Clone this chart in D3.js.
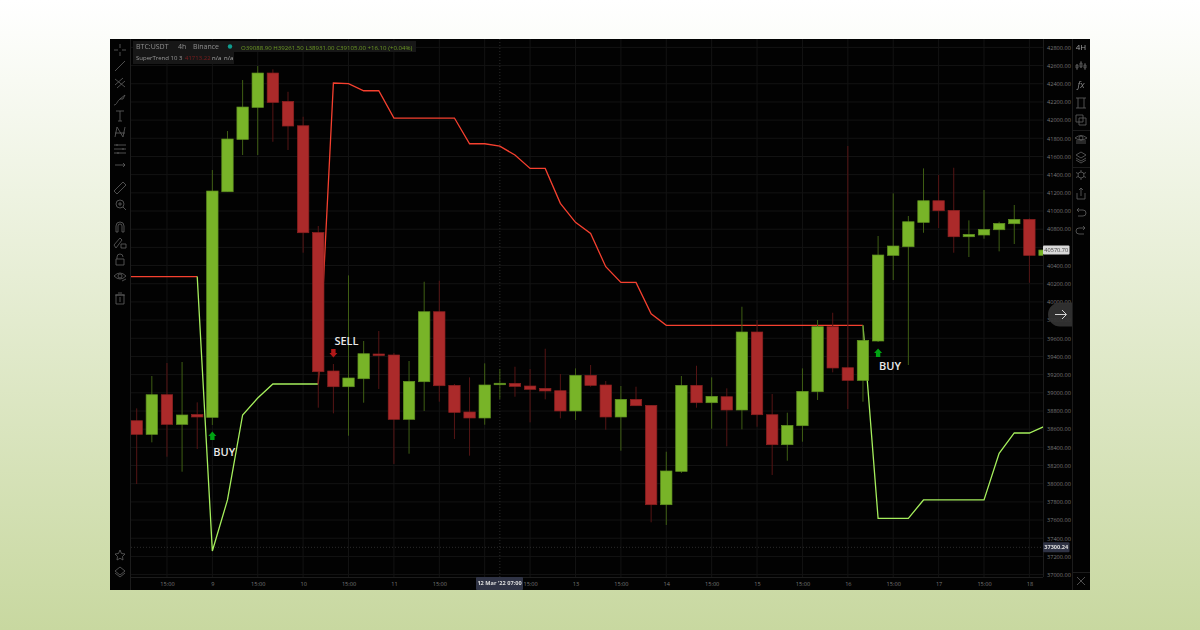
<!DOCTYPE html>
<html>
<head>
<meta charset="utf-8">
<script src="https://cdnjs.cloudflare.com/ajax/libs/d3/7.8.5/d3.min.js"></script>
<style>
  html, body { margin: 0; padding: 0; width: 1200px; height: 630px; overflow: hidden; }
  body { background: linear-gradient(#ffffff, #c8d8a0); }
  svg { display: block; filter: blur(0.35px); }
  text { font-family: "Open Sans", sans-serif; }
</style>
</head>
<body>
<script>
const opens = [38693,38543,38979,38653,38761,38730,41212,41788,42140,42518,42206,41938,40763,39240,39067,39155,39427,39416,38708,39122,39892,39082,38789,38723,39088.9,39104,39075,39049,39023,38800,39192,39086,38734,38928,38862,37769,38136,39082,38891,38957,38811,39669,38759,38429,38638,39012,39727,39276,39137,39570,40512,40607,40875,41113,41007,40717,40736,40794,40860,40908,40512];
const highs = [38829,39185,39328,39339,38895,41451,41880,42441,42595,42558,42312,42037,40835,39317,40292,39570,39680,39438,39350,40222,40233,39097,39170,39324,39261.5,39287,39262,39485,39207,39269,39306,39130,39075,39067,38866,38352,39185,39298,39170,39049,39947,39801,38987,38781,39269,39801,39881,41715,39746,40725,41194,40945,41469,41396,41476,40897,41231,40882,41066,40919,40571];
const lows = [37997,38455,38297,38132,38382,38646,41212,41616,41616,41762,41671,40541,38836,38774,38528,38891,39042,38217,38330,38800,38902,38492,38308,38649,38931,38957,38675,38928,38719,38701,39067,38594,38363,38858,37575,37546,38118,38836,38605,38411,38598,38627,38096,38253,38462,38921,39225,38822,38902,39559,40241,39306,40761,40813,40541,40494,40695,40556,40637,40211,40512];
const closes = [38543,38979,38653,38756,38734,41220,41792,42144,42518,42195,41935,40761,39232,39067,39163,39430,39410,38708,39126,39892,39078,38785,38723,39086,39105,39071,39038,39020,38800,39192,39082,38734,38928,38858,37769,38140,39082,38891,38961,38811,39669,38759,38429,38642,39016,39727,39273,39137,39577,40516,40615,40882,41113,41003,40717,40743,40798,40864,40908,40512,40570.7];

// supertrend pieces, each with the candle index it starts on
const redTrendAStart = -1;
const redTrendA = [40279,40279,40279,40279,40279,40279];
const greenTrendAStart = 4;
const greenTrendA = [40279,37260,37821,38756,38943,39097,39097,39097,39097];
const redTrendBStart = 12;
const redTrendB = [39097,42408,42402,42323,42323,42023,42023,42023,42023,42023,41740,41740,41713.22,41616,41469,41469,41084,40875,40754,40387,40215,40215,39870,39742,39742,39742,39742,39742,39742,39742,39742,39742,39742,39742,39742,39742,39742];
const greenTrendBStart = 48;
const greenTrendB = [39742,37619,37619,37619,37821,37821,37821,37821,37821,38334,38558,38558,38631];

const buySignals = [5, 49];
const sellSignals = [13];
const signalPrices = { 5: 38525, 49: 39438, 13: 39438 };
const labelPrices = { 5: 38348, 49: 39295, 13: 39570 };

const priceTicks = [37000,37200,37400,37600,37800,38000,38200,38400,38600,38800,39000,39200,39400,39600,39800,40000,40200,40400,40600,40800,41000,41200,41400,41600,41800,42000,42200,42400,42600,42800];
const timeTickIndex = [2,5,8,11,14,17,20,23,26,29,32,35,38,41,44,47,50,53,56,59];
const timeTickLabels = ['15:00','9','15:00','10','15:00','11','15:00','12','15:00','13','15:00','14','15:00','15','15:00','16','15:00','17','15:00','18'];

const crossIndex = 24;
const crossPrice = 37300.24;
const lastPrice = 40570.7;
// these tick labels sit under the tags
const coveredPriceTick = 40600;
const coveredTimeTick = 23;

const chart = { left: 110, right: 1090, top: 39, bottom: 590 };
const plot = { left: 131, right: 1043, top: 39, bottom: 577 };

const green = '#78b428', greenEdge = '#5f8f20', greenWick = '#3f5f14';
const red = '#ab2a2a', redEdge = '#8a2020', redWick = '#561515';
const gridColor = '#131313', axisText = '#777', iconColor = '#626262', panel = '#020202';

const xScale = d3.scaleLinear().domain([0, 59]).range([136.7, 1029.4]);
const yScale = d3.scaleLinear().domain([37000, 42800]).range([574.6, 47.4]);
const bodyWidth = 11.4;

const svg = d3.select('body').append('svg').attr('width', 1200).attr('height', 630);

svg.append('rect')
  .attr('x', chart.left).attr('y', chart.top)
  .attr('width', chart.right - chart.left).attr('height', chart.bottom - chart.top)
  .attr('fill', panel);

svg.append('clipPath').attr('id', 'plot-clip').append('rect')
  .attr('x', plot.left).attr('y', plot.top)
  .attr('width', plot.right - plot.left).attr('height', plot.bottom - plot.top);

const grid = svg.append('g');
grid.selectAll('.h').data(priceTicks).join('line')
  .attr('x1', plot.left).attr('x2', plot.right)
  .attr('y1', (d) => yScale(d)).attr('y2', (d) => yScale(d))
  .attr('stroke', gridColor);
grid.selectAll('.v').data(timeTickIndex).join('line')
  .attr('x1', (d) => xScale(d)).attr('x2', (d) => xScale(d))
  .attr('y1', plot.top).attr('y2', plot.bottom)
  .attr('stroke', gridColor);

// crosshair
grid.append('line')
  .attr('x1', xScale(crossIndex)).attr('x2', xScale(crossIndex))
  .attr('y1', plot.top).attr('y2', plot.bottom)
  .attr('stroke', '#2c2c2c').attr('stroke-dasharray', '1 2');
grid.append('line')
  .attr('x1', plot.left).attr('x2', plot.right)
  .attr('y1', yScale(crossPrice)).attr('y2', yScale(crossPrice))
  .attr('stroke', '#2c2c2c').attr('stroke-dasharray', '1 2');

const marks = svg.append('g').attr('clip-path', 'url(#plot-clip)');

const line = d3.line()
  .x((d) => xScale(d[0]))
  .y((d) => yScale(d[1]));

function drawTrend(values, start, color) {
  marks.append('path')
    .datum(values.map((v, i) => [start + i, v]))
    .attr('d', line)
    .attr('fill', 'none')
    .attr('stroke', color)
    .attr('stroke-width', 1.3);
}
drawTrend(redTrendA, redTrendAStart, '#f5402f');
drawTrend(greenTrendA, greenTrendAStart, '#a5ee5c');
drawTrend(redTrendB, redTrendBStart, '#f5402f');
drawTrend(greenTrendB, greenTrendBStart, '#a5ee5c');

const isUp = (i) => closes[i] >= opens[i];

marks.selectAll('.wick').data(d3.range(opens.length)).join('line')
  .attr('x1', (i) => xScale(i)).attr('x2', (i) => xScale(i))
  .attr('y1', (i) => yScale(highs[i])).attr('y2', (i) => yScale(lows[i]))
  .attr('stroke', (i) => isUp(i) ? greenWick : redWick)
  .attr('stroke-width', 1);

marks.selectAll('.body').data(d3.range(opens.length)).join('rect')
  .attr('x', (i) => xScale(i) - bodyWidth / 2)
  .attr('width', bodyWidth)
  .attr('y', (i) => yScale(Math.max(opens[i], closes[i])))
  .attr('height', (i) => Math.abs(yScale(opens[i]) - yScale(closes[i])))
  .attr('fill', (i) => isUp(i) ? green : red)
  .attr('stroke', (i) => isUp(i) ? greenEdge : redEdge)
  .attr('stroke-width', 0.7);

// signal arrows and labels
const arrow = 'M0 -4.5L4 0H2.2V4H-2.2V0H-4Z';
marks.selectAll('.buy').data(buySignals).join('path')
  .attr('d', arrow)
  .attr('transform', (i) => `translate(${xScale(i)},${yScale(signalPrices[i])})`)
  .attr('fill', '#00a313');
marks.selectAll('.sell').data(sellSignals).join('path')
  .attr('d', arrow)
  .attr('transform', (i) => `translate(${xScale(i)},${yScale(signalPrices[i])}) rotate(180)`)
  .attr('fill', '#b01818');
marks.selectAll('.signal-label').data(buySignals.concat(sellSignals)).join('text')
  .attr('x', (i) => xScale(i) + 1)
  .attr('y', (i) => yScale(labelPrices[i]))
  .attr('dy', '0.35em')
  .attr('fill', '#e8e8e8')
  .attr('font-size', 11)
  .attr('font-weight', 600)
  .text((i) => sellSignals.includes(i) ? 'SELL' : 'BUY');

// axes
const yAxis = svg.append('g')
  .attr('transform', `translate(${plot.right},0)`)
  .call(d3.axisRight(yScale).tickValues(priceTicks).tickFormat(d3.format('.2f')).tickSize(0).tickPadding(4));
const xAxis = svg.append('g')
  .attr('transform', `translate(0,${plot.bottom})`)
  .call(d3.axisBottom(xScale).tickValues(timeTickIndex).tickFormat((d, i) => timeTickLabels[i]).tickSize(0).tickPadding(5));
[yAxis, xAxis].forEach((axis) => {
  axis.select('.domain').remove();
  axis.selectAll('text').attr('fill', axisText).attr('font-size', 5.6).style('font-family', '"Open Sans", sans-serif');
});
yAxis.selectAll('.tick').filter((d) => d === coveredPriceTick).remove();
xAxis.selectAll('.tick').filter((d) => d === coveredTimeTick).remove();
svg.append('line').attr('x1', plot.right + 0.5).attr('x2', plot.right + 0.5).attr('y1', plot.top).attr('y2', plot.bottom).attr('stroke', '#1c1c1c');
svg.append('line').attr('x1', plot.left).attr('x2', plot.right).attr('y1', plot.bottom + 0.5).attr('y2', plot.bottom + 0.5).attr('stroke', '#1c1c1c');

// crosshair and last price tags
function tag(x, y, w, h, fill, color, label, weight) {
  svg.append('rect').attr('x', x).attr('y', y).attr('width', w).attr('height', h).attr('rx', 1).attr('fill', fill);
  svg.append('text')
    .attr('x', x + w / 2).attr('y', y + h / 2).attr('dy', '0.35em')
    .attr('text-anchor', 'middle').attr('fill', color)
    .attr('font-size', 5.6).attr('font-weight', weight)
    .text(label);
}
tag(plot.right, yScale(lastPrice) - 4.5, 26.5, 9, '#d8d8d8', '#444', d3.format('.2f')(lastPrice), 400);
tag(plot.right, yScale(crossPrice) - 5, 26.5, 10, '#2f3345', '#dddddd', d3.format('.2f')(crossPrice), 700);
tag(476, plot.bottom, 47, 13, '#2f3345', '#dddddd', "12 Mar '22   07:00", 700);

// legend
svg.append('rect').attr('x', 133).attr('y', 41).attr('width', 283).attr('height', 11).attr('fill', '#171717');
svg.append('rect').attr('x', 133).attr('y', 52).attr('width', 101).attr('height', 12).attr('fill', '#171717');
svg.append('circle').attr('cx', 230).attr('cy', 46.5).attr('r', 2.2).attr('fill', '#0f9d8f');
function legendText(x, y, label, color, size) {
  svg.append('text').attr('x', x).attr('y', y).attr('dy', '0.35em')
    .attr('fill', color).attr('font-size', size).text(label);
}
legendText(136, 46.5, 'BTC:USDT', '#8f8f8f', 7);
legendText(178, 46.5, '4h', '#8f8f8f', 7);
legendText(193, 46.5, 'Binance', '#8f8f8f', 7);
legendText(241, 47.5, 'O39088.90  H39261.50  L38931.00  C39105.00  +16.10 (+0.04%)', '#6d9a25', 6.1);
legendText(136, 58, 'SuperTrend 10 3', '#9a9a9a', 6);
legendText(185, 58, '41713.22', '#7e1d1d', 6);
legendText(212, 58, 'n/a', '#a8a8a8', 6);
legendText(224, 58, 'n/a', '#a8a8a8', 6);

// toolbars
svg.append('line').attr('x1', 130.5).attr('x2', 130.5).attr('y1', chart.top).attr('y2', chart.bottom).attr('stroke', '#1c1c1c');
svg.append('line').attr('x1', 1072.5).attr('x2', 1072.5).attr('y1', chart.top).attr('y2', chart.bottom).attr('stroke', '#1c1c1c');
[130, 167, 572].forEach((y) => {
  svg.append('line').attr('x1', 1072).attr('x2', chart.right).attr('y1', y + 0.5).attr('y2', y + 0.5).attr('stroke', '#1c1c1c');
});

const leftIcons = [
  [50, 'M-6 0H-2M2 0H6M0-6V-2M0 2V6'],
  [66, 'M-5 5L5-5'],
  [83, 'M-5 2L3-5M-3 5L5-2M-5-4L5 4'],
  [100, 'M-6 5C-3 5-3 1 0-1L5-5L3-1L0-1'],
  [116, 'M-4-5H4M0-5V5M-2 5H2'],
  [132, 'M-5 5L-3-5L3 5L5-5M-5 1H5'],
  [149, 'M-6-4H6M-6 0H6M-6 4H6M-3-5V-3M3-1V1M-2 3V5'],
  [165, 'M-5 0H5M3-2L5 0L3 2'],
  [188, 'M-6 3L3-6L6-3L-3 6Z'],
  [204, 'M4 0A4 4 0 1 1-4 0A4 4 0 1 1 4 0M3 3L6 6M-2 0H2M0-2V2'],
  [227, 'M-4 5V-1A4 4 0 0 1 4-1V5H2V-1A2 2 0 0 0-2-1V5Z'],
  [243, 'M-6 2L0-5L2-3L-4 5ZM1 1H6V5H1Z'],
  [260, 'M-4-1H4V5H-4ZM-3-1V-3A3 3 0 0 1 3-3'],
  [276, 'M-6 0Q0-6 6 0Q0 6-6 0ZM2 0A2 2 0 1 1-2 0A2 2 0 1 1 2 0M2 5L6 3'],
  [299, 'M-4-4H4V5H-4ZM-5-4H5M-2-6H2M0-2V3'],
  [555, 'M0-5L1.5-1.5L5-1L2.5 1.5L3 5L0 3.3L-3 5L-2.5 1.5L-5-1L-1.5-1.5Z'],
  [572, 'M-5-1L0-5L5-1L0 3ZM-5 1L0 5L5 1']
];
const rightIcons = [
  [66, 'M-4-2V4M0-5V2M4-3V4M-5-1H-3V2H-5ZM-1-3H1V1H-1ZM3-1H5V2H3Z'],
  [103, 'M-5-5H5M-5 5H5M-3-5V5M3-5V5'],
  [120, 'M-5-5H2V2H-5ZM-2-2H5V5H-2Z'],
  [139, 'M-6-1Q0-6 6-1Q0 3-6-1ZM-5 4H5M-5 2H5M2-1A2 2 0 1 1-2-1A2 2 0 1 1 2-1'],
  [157, 'M-5-2L0-5L5-2L0 1ZM-5 1L0 4L5 1M-5 3L0 6L5 3'],
  [176, 'M3-1A3 3 0 1 1-3-1A3 3 0 1 1 3-1M0-6V-4M0 2V4M-5-3.5L-3-2.5M5-3.5L3-2.5M-5 1.5L-3 .5M5 1.5L3 .5'],
  [194, 'M-4-1V5H4V-1M0 2V-6M-2-4L0-6L2-4'],
  [213, 'M-4-3H2A3 3 0 0 1 2 3H-3M-2-5L-4-3L-2-1'],
  [231, 'M4-3H-2A3 3 0 0 0-2 3H3M2-5L4-3L2-1'],
  [581, 'M-4-4L4 4M4-4L-4 4']
];
function drawIcons(icons, x) {
  svg.append('g').selectAll('path').data(icons).join('path')
    .attr('transform', (d) => `translate(${x},${d[0]})`)
    .attr('d', (d) => d[1])
    .attr('fill', 'none')
    .attr('stroke', iconColor)
    .attr('stroke-width', 0.8);
}
drawIcons(leftIcons, 120);
drawIcons(rightIcons, 1081);
svg.append('text').attr('x', 1081).attr('y', 47).attr('dy', '0.35em').attr('text-anchor', 'middle')
  .attr('fill', '#a0a0a0').attr('font-size', 8).text('4H');
svg.append('text').attr('x', 1081).attr('y', 85).attr('dy', '0.35em').attr('text-anchor', 'middle')
  .attr('fill', '#8a8a8a').attr('font-size', 9).attr('font-style', 'italic').text('fx');

// scroll button over the price axis
svg.append('path')
  .attr('d', 'M1072 302.5H1060A12 12 0 0 0 1060 326.5H1072Z')
  .attr('fill', '#333').attr('fill-opacity', 0.92);
svg.append('path')
  .attr('d', 'M1055 314.5H1066M1062 310L1066.5 314.5L1062 319')
  .attr('fill', 'none').attr('stroke', '#e6e6e6').attr('stroke-width', 0.9);
</script>
</body>
</html>
